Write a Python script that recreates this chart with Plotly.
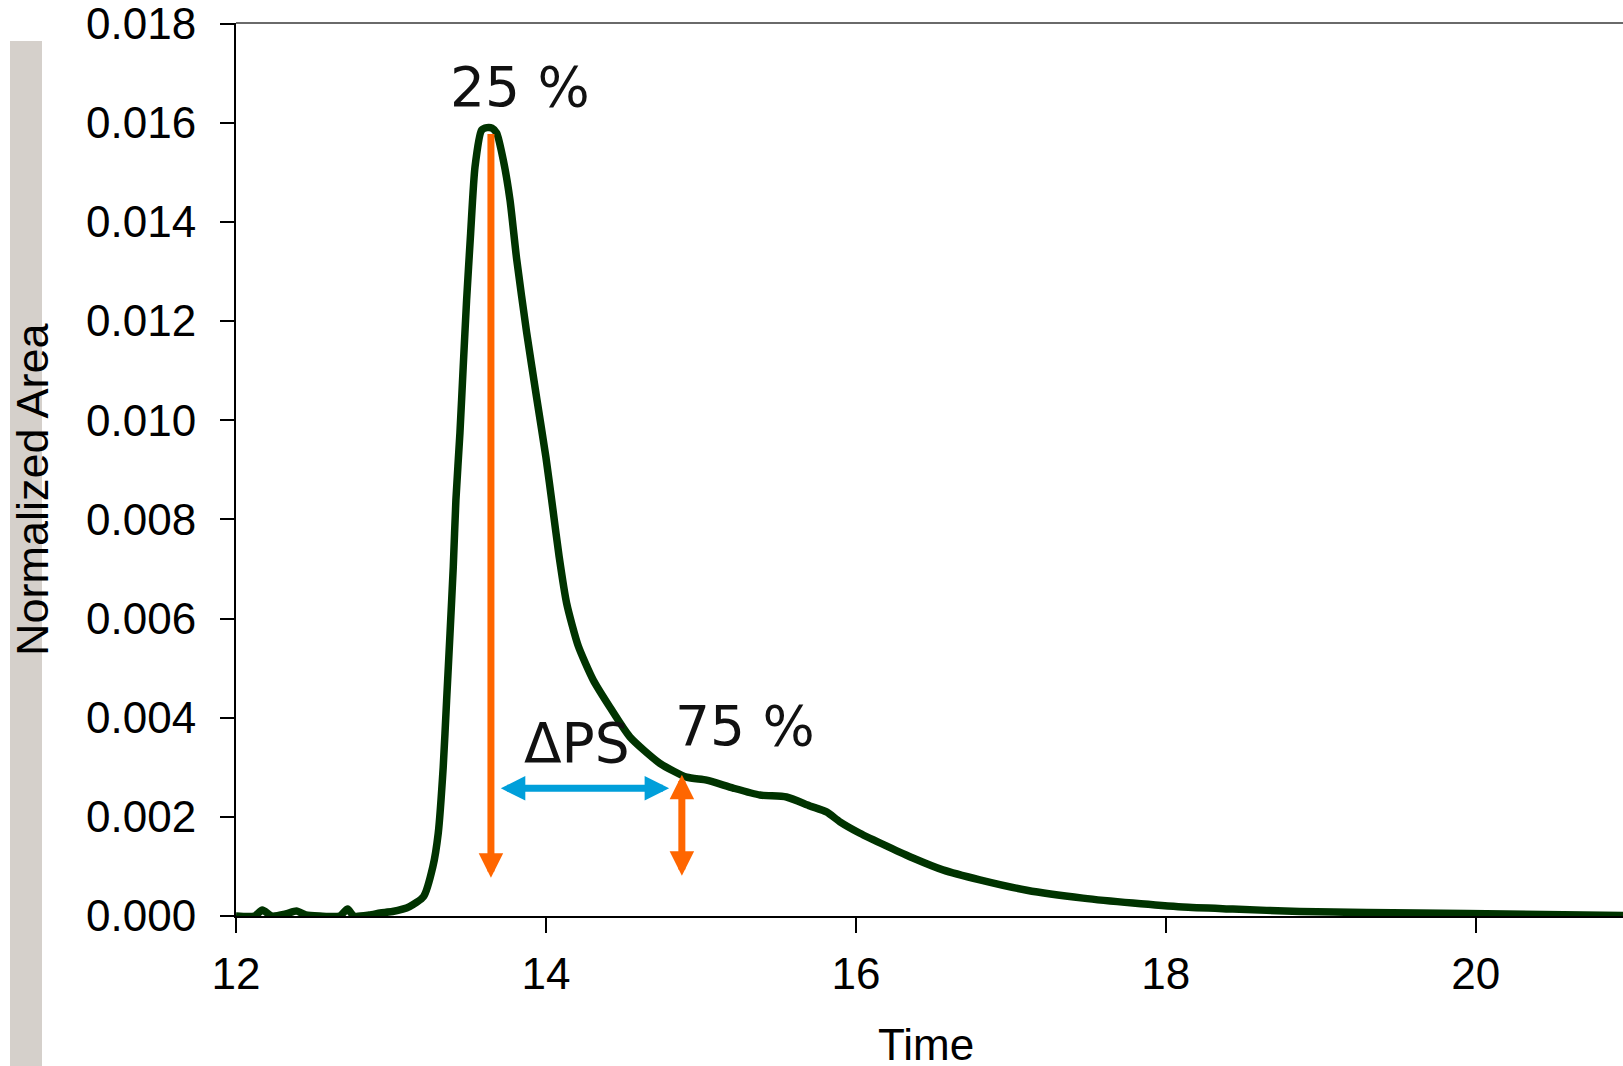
import plotly.graph_objects as go

# ---------------- data ----------------
time = [12.00, 12.12, 12.17, 12.23, 12.32, 12.39, 12.45, 12.54, 12.67, 12.72, 12.76,
        12.86, 12.93, 13.01, 13.12, 13.21, 13.27, 13.305, 13.337, 13.359, 13.381,
        13.402, 13.419, 13.445, 13.466, 13.488, 13.514, 13.542, 13.585, 13.619,
        13.652, 13.682, 13.725, 13.768, 13.811, 13.875, 13.940, 14.000, 14.045,
        14.085, 14.134, 14.208, 14.305, 14.413, 14.542, 14.735, 14.908, 15.037,
        15.208, 15.381, 15.552, 15.703, 15.81, 15.897, 16.026, 16.20, 16.368,
        16.561, 16.80, 17.103, 17.465, 17.787, 18.11, 18.432, 18.865, 19.297,
        19.942, 20.95]
area = [0.0, 0.0, 0.00012, 0.0, 0.00004, 0.0001, 0.00002, 0.0, 0.0, 0.00014, 0.0,
        0.00002, 0.00006, 0.00009, 0.00019, 0.00039, 0.00099, 0.00167, 0.0030, 0.00435,
        0.0057, 0.00704, 0.00839, 0.00974, 0.01107, 0.01242, 0.01377, 0.0151, 0.01585,
        0.0159, 0.01589, 0.01579, 0.01524, 0.01444, 0.01325, 0.01178, 0.01045, 0.00925,
        0.00820, 0.00725, 0.00630, 0.00545, 0.00476, 0.00421, 0.00361, 0.00308, 0.0028,
        0.00274, 0.00258, 0.00244, 0.0024, 0.00222, 0.0021, 0.0019, 0.00167, 0.00141,
        0.00117, 0.00093, 0.00073, 0.00052, 0.00036, 0.00026, 0.00018, 0.00014, 0.00009,
        0.00007, 0.00005, 0.00001]

x_ticks = [12, 14, 16, 18, 20]
y_ticks = [0.000, 0.002, 0.004, 0.006, 0.008, 0.010, 0.012, 0.014, 0.016, 0.018]

# annotation markers: (x, y_from, y_to)
arrow_25 = [13.645, 0.0158, 0.00077]
arrow_75 = [14.877, 0.00288, 0.00081]
# delta PS arrow: (x_from, x_to, y)
arrow_dps = [13.699, 14.795, 0.002574]

labels = ["25 %", "75 %", "\u0394PS"]
label_x = [13.835, 15.284, 14.203]
label_y = [0.016713, 0.003831, 0.003498]

# ---------------- figure ----------------
W, H = 1623, 1066
L, R, T, B = 236, 0, 23, 150
PW, PH = W - L - R, H - T - B


def px_x(p):
    return (p - L) / PW


def px_y(p):
    return (H - B - p) / PH


fig = go.Figure()
fig.add_trace(go.Scatter(x=time, y=area, mode="lines",
                         line=dict(color="#003300", width=7.5, shape="spline",
                                   smoothing=0.6),
                         hoverinfo="skip"))

ORANGE = "#ff6600"
BLUE = "#009fda"

ann = []
ann.append(dict(x=arrow_25[0], y=arrow_25[2], ax=arrow_25[0], ay=arrow_25[1],
                xref="x", yref="y", axref="x", ayref="y", text="", showarrow=True,
                arrowhead=2, arrowsize=0.7, arrowwidth=7, arrowcolor=ORANGE, standoff=0))
ann.append(dict(x=arrow_75[0], y=arrow_75[2], ax=arrow_75[0], ay=arrow_75[1],
                xref="x", yref="y", axref="x", ayref="y", text="", showarrow=True,
                arrowhead=2, arrowsize=0.7, arrowwidth=7, arrowcolor=ORANGE,
                arrowside="end+start", startarrowhead=2, startarrowsize=0.7,
                standoff=0, startstandoff=0))
ann.append(dict(x=arrow_dps[1], y=arrow_dps[2], ax=arrow_dps[0], ay=arrow_dps[2],
                xref="x", yref="y", axref="x", ayref="y", text="", showarrow=True,
                arrowhead=2, arrowsize=0.7, arrowwidth=7, arrowcolor=BLUE,
                arrowside="end+start", startarrowhead=2, startarrowsize=0.7,
                standoff=0, startstandoff=0))
for t, xx, yy in zip(labels, label_x, label_y):
    ann.append(dict(x=xx, y=yy, xref="x", yref="y", text=t, showarrow=False,
                    xanchor="center", yanchor="middle",
                    font=dict(family="DejaVu Sans", size=55, color="#111111")))

# axis titles
ann.append(dict(x=px_x(32), y=px_y(489), xref="paper", yref="paper",
                text="Normalized Area", textangle=-90, showarrow=False,
                xanchor="center", yanchor="middle",
                font=dict(family="Liberation Sans", size=45, color="black")))
ann.append(dict(x=px_x(925.5), y=px_y(1044), xref="paper", yref="paper",
                text="Time", showarrow=False, xanchor="center", yanchor="middle",
                font=dict(family="Liberation Sans", size=44, color="black")))

shapes = [
    dict(type="rect", xref="paper", yref="paper", x0=px_x(10), x1=px_x(42),
         y0=px_y(H + 5), y1=px_y(41), fillcolor="#d5d0cb", line=dict(width=0),
         layer="below"),
    dict(type="line", xref="paper", yref="paper", x0=0, x1=1, y0=1, y1=1,
         line=dict(color="#6a6a6a", width=2)),
]

fig.update_layout(
    width=W, height=H,
    margin=dict(l=L, r=R, t=T, b=B, pad=0),
    paper_bgcolor="white", plot_bgcolor="white",
    showlegend=False,
    font=dict(family="Liberation Sans, Arial, sans-serif", size=44, color="black"),
    annotations=ann, shapes=shapes,
    xaxis=dict(range=[12, 20.95], tickvals=x_ticks, ticks="outside", ticklen=15,
               tickwidth=2, tickcolor="black", showline=True, linecolor="black",
               linewidth=2, showgrid=False, zeroline=False, ticklabelstandoff=3,
               ticklabeloverflow="allow",
               tickfont=dict(family="Liberation Sans", size=44, color="black")),
    yaxis=dict(range=[0, 0.01801], tickvals=y_ticks, tickformat=".3f", ticks="outside",
               ticklen=14, tickwidth=2, tickcolor="black", showline=True,
               linecolor="black", linewidth=2, showgrid=False, zeroline=False,
               ticklabelstandoff=15, ticklabeloverflow="allow",
               tickfont=dict(family="Liberation Sans", size=44, color="black")),
)

fig.write_html("out.html")
